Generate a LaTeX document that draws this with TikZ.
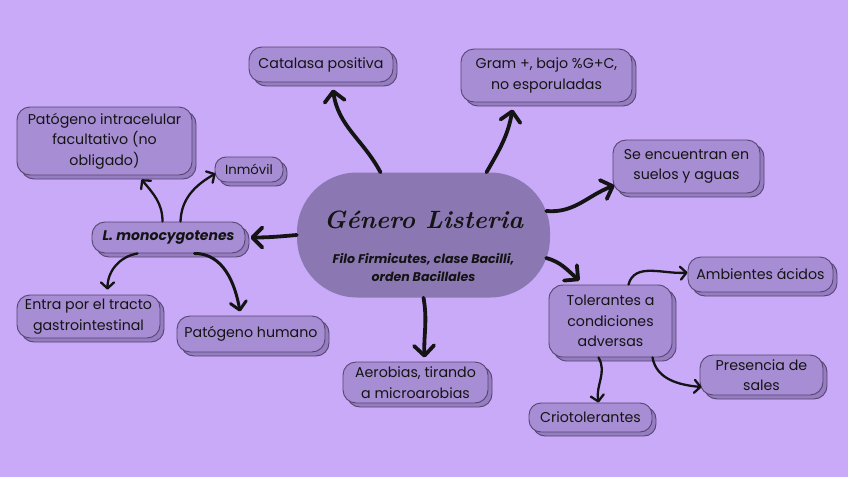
\documentclass[tikz,border=0pt]{standalone}
\usepackage{fontspec}
\setsansfont{Poppins}
\usepackage{xcolor}
\usetikzlibrary{arrows.meta,shadows}

\definecolor{bgviolet}{HTML}{C9AAF9}
\definecolor{boxfill}{HTML}{A78DD4}
\definecolor{boxshade}{HTML}{967DC2}
\definecolor{boxline}{HTML}{55466E}
\definecolor{blobfill}{HTML}{8B78B2}
\definecolor{inkblack}{HTML}{141414}

\begin{document}
\begin{tikzpicture}[
  x=1pt, y=1pt,
  idea/.style={
    draw=boxline,
    line width=0.9pt,
    fill=boxfill,
    rounded corners=13pt,
    align=center,
    inner sep=1pt,
    text=inkblack,
    font=\sffamily\fontsize{14.2}{20.5}\selectfont,
    copy shadow={shadow xshift=4pt, shadow yshift=-4pt, fill=boxshade, draw=boxline}
  },
  blob/.style={
    fill=blobfill,
    rounded corners=60pt,
    align=center,
    text=inkblack,
    minimum width=253,
    minimum height=125
  },
  titlefont/.style={font=\rmfamily\bfseries\itshape\fontsize{25}{30}\selectfont},
  subfont/.style={font=\sffamily\bfseries\itshape\fontsize{12.6}{18}\selectfont},
  flow/.style={-{Straight Barb[length=10pt,width=20pt,round]}, line width=3.8pt, line cap=round, draw=inkblack},
  twig/.style={-{Straight Barb[length=6pt,width=13pt,round]}, line width=2.3pt, line cap=round, draw=inkblack},
  midflow/.style={-{Straight Barb[length=8pt,width=16pt,round]}, line width=3pt, line cap=round, draw=inkblack}
]

\fill[bgviolet] (0,0) rectangle (848,-477);
\useasboundingbox (0,0) rectangle (848,-477);

\node[blob] (genero) at (423.5,-235) {};
\node[titlefont, text=inkblack] (generotitle) at (423.5,-220) {Género Listeria};
\node[subfont, text=inkblack, align=center] (generosub) at (423.5,-267)
  {Filo Firmicutes, clase Bacilli,\\orden Bacillales};

\node[idea, minimum width=144, minimum height=35] (catalasa) at (321,-64.5)
  {Catalasa positiva};
\node[idea, minimum width=171, minimum height=53] (gram) at (546.5,-75.5)
  {Gram +, bajo \%G+C,\\no esporuladas};
\node[idea, minimum width=147, minimum height=53] (suelos) at (686.5,-166.5)
  {Se encuentran en\\suelos y aguas};

\node[idea, minimum width=153, minimum height=31, font=\sffamily\bfseries\itshape\fontsize{14}{17}\selectfont] (lmono) at (168.5,-237.5)
  {L. monocygotenes};
\node[idea, minimum width=175, minimum height=68] (intracel) at (104.5,-141)
  {Patógeno intracelular\\facultativo (no\\obligado)};
\node[idea, minimum width=68, minimum height=25, rounded corners=11pt, font=\sffamily\fontsize{13.2}{17}\selectfont] (inmovil) at (249,-169.5)
  {Inmóvil};
\node[idea, minimum width=143, minimum height=43] (entra) at (88.5,-316.5)
  {Entra por el tracto\\gastrointestinal};
\node[idea, minimum width=148, minimum height=36] (humano) at (251,-334)
  {Patógeno humano};

\node[idea, minimum width=145, minimum height=41] (aerobias) at (415.5,-382.5)
  {Aerobias, tirando\\a microarobias};

\node[idea, minimum width=123, minimum height=72, rounded corners=14pt] (tolerantes) at (610.5,-321)
  {Tolerantes a\\condiciones\\adversas};
\node[idea, minimum width=145, minimum height=35] (acidos) at (760.5,-274.5)
  {Ambientes ácidos};
\node[idea, minimum width=123, minimum height=40] (sales) at (761.5,-375)
  {Presencia de\\sales};
\node[idea, minimum width=123, minimum height=29, rounded corners=12pt] (crio) at (590.5,-417.5)
  {Criotolerantes};

\draw[flow] ([xshift=-43]genero.north) to[out=118,in=-82] ([xshift=12,yshift=-7]catalasa.south);
\draw[flow] ([xshift=63]genero.north) to[out=60,in=-100] ([xshift=-34,yshift=-7]gram.south);
\draw[flow] ([xshift=-4,yshift=24]genero.east) to[out=-5,in=200] ([xshift=2,yshift=-19]suelos.west);
\draw[flow] ([xshift=-4,yshift=-23]genero.east) to[out=-15,in=140] ([xshift=31,yshift=4]tolerantes.north west);
\draw[flow] (genero.south) to[out=-80,in=92] ([xshift=9,yshift=4]aerobias.north);
\draw[flow] (genero.west) to[out=185,in=0] ([xshift=5]lmono.east);

\draw[twig] ([xshift=-6]lmono.north) to[out=90,in=-50] ([xshift=37,yshift=-4]intracel.south);
\draw[twig] ([xshift=12]lmono.north) to[out=88,in=210] ([xshift=1,yshift=-4]inmovil.west);
\draw[twig] ([xshift=-31]lmono.south) to[out=190,in=90] ([xshift=19,yshift=5]entra.north);
\draw[midflow] ([xshift=26]lmono.south) to[out=0,in=100] ([xshift=-11,yshift=4]humano.north);

\draw[twig] ([xshift=18]tolerantes.north) to[out=75,in=185] ([yshift=2]acidos.west);
\draw[twig] ([xshift=42]tolerantes.south) to[out=-80,in=175] ([xshift=2,yshift=-12]sales.west);
\draw[twig] ([xshift=-12]tolerantes.south) to[out=-60,in=100] ([xshift=8]crio.north);

\end{tikzpicture}
\end{document}
